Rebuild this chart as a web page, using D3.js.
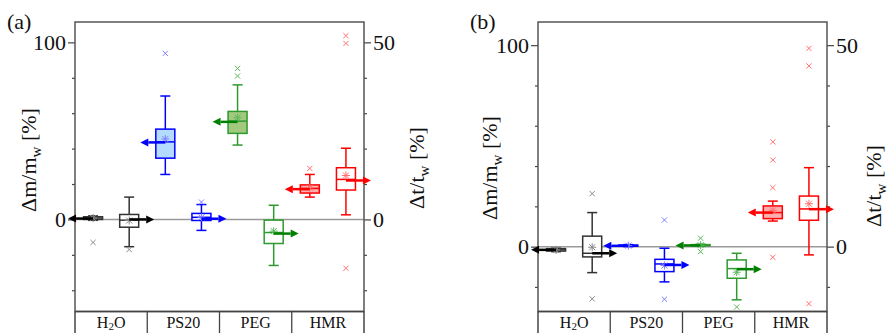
<!DOCTYPE html>
<html>
<head>
<meta charset="utf-8">
<script src="https://cdn.jsdelivr.net/npm/d3@7"></script>
<style>
  body { margin: 0; background: #fff; }
  svg { display: block; }
  svg text { font-family: "Liberation Serif", "Times New Roman", Times, "DejaVu Serif", serif !important; fill: #111; }
</style>
</head>
<body>
<div id="chart"></div>
<script>
// categories (bottom strip)
var categories = ["H2O", "PS20", "PEG", "HMR"];

// Δm/m_w [%] boxes (left axis)  lo, q1, med, q3, hi, mean, arrow level, outliers
var massA = [
  { lo: -0.5, q1: 0,    med: 0.8,  q3: 1.5,  hi: 2,    mean: 0.8,  arrow: 0.5,  out: [-13] },
  { lo: 25.4, q1: 34.6, med: 43.8, q3: 51,   hi: 69.7, mean: 45.4, arrow: 43.5, out: [93.8] },
  { lo: 42,   q1: 48.6, med: 55.5, q3: 61,   hi: 76,   mean: 57.4, arrow: 55.1, out: [81, 85.3] },
  { lo: 12.6, q1: 14.9, med: 17.5, q3: 19.5, hi: 25.4, mean: 17.9, arrow: 17.1, out: [28.8] }
];
// Δt/t_w [%] boxes (right axis)
var thickA = [
  { lo: -7.7, q1: -2.2, med: -0.2, q3: 1.4,  hi: 6.3,  mean: -0.3, arrow: 0,    out: [-8.5] },
  { lo: -3.1, q1: -0.3, med: 0.6,  q3: 1.7,  hi: 4.2,  mean: 0.6,  arrow: 0.2,  out: [4.9] },
  { lo: -13,  q1: -6.8, med: -3.7, q3: -0.2, hi: 4.0,  mean: -3.3, arrow: -4.0, out: [] },
  { lo: 1.3,  q1: 8.3,  med: 11.3, q3: 14.6, hi: 20.1, mean: 12.4, arrow: 11,   out: [51.9, 49.7, -13.8] }
];

var massB = [
  { lo: -2.5, q1: -2.2, med: -1.6, q3: -1.0, hi: -0.8, mean: -1.6, arrow: -1.6, out: [] },
  { lo: 0,    q1: 0.2,  med: 0.5,  q3: 0.8,  hi: 1.0,  mean: 0.5,  arrow: 0.4,  out: [] },
  { lo: 0.2,  q1: 0.4,  med: 0.7,  q3: 1.0,  hi: 1.2,  mean: 0.7,  arrow: 0.6,  out: [4.2, -2.5] },
  { lo: 12.7, q1: 13.9, med: 16.9, q3: 20.2, hi: 22.6, mean: 18,   arrow: 16.9, out: [52, 43, 29.3, -5.3] }
];
var thickB = [
  { lo: -6.45, q1: -2.55, med: -1.65, q3: 2.6,   hi: 8.45,  mean: -0.15, arrow: -1.65, out: [13.15, -12.95] },
  { lo: -8.75, q1: -6.2,  med: -4.3,  q3: -3.15, hi: -0.4,  mean: -4.7,  arrow: -4.55, out: [6.6, -13.05] },
  { lo: -13.2, q1: -7.85, med: -5.45, q3: -3.3,  hi: -1.65, mean: -6.35, arrow: -5.6,  out: [-15] },
  { lo: -2.05, q1: 6.55,  med: 9.35,  q3: 12.55, hi: 19.6,  mean: 10.65, arrow: 9.3,   out: [49.2, 44.85, -14.15] }
];

// colours per category
var strokeColors = ["#333333", "#0000ff", "#2f9a2f", "#ff0000"];
var arrowColors  = ["#000000", "#0000ff", "#008000", "#ff0000"];
var massFills    = ["#ffffff", "#b3dbff", "#a3c97f", "#ffadad"];
var softColors   = ["#8a8a8a", "#8080ff", "#5cb85c", "#ff7070"];

var FONT = "'Liberation Serif', 'Times New Roman', Times, 'DejaVu Serif', serif";
var width = 891, height = 333;

var svg = d3.select("#chart").append("svg")
  .attr("width", width).attr("height", height)
  .attr("font-family", FONT);

// asterisk path for mean and x path for outliers
function asteriskPath(r) {
  var d = "M" + (-r) + ",0L" + r + ",0M0," + (-r) + "L0," + r;
  var k = r * 0.75;
  d += "M" + (-k) + "," + (-k) + "L" + k + "," + k + "M" + (-k) + "," + k + "L" + k + "," + (-k);
  return d;
}
function xPath(r) {
  return "M" + (-r) + "," + (-r) + "L" + r + "," + r + "M" + (-r) + "," + r + "L" + r + "," + (-r);
}

function drawPanel(opt) {
  var g = svg.append("g");
  var left = opt.left, right = opt.left + 289, top = 22, bottom = 311.5;

  var x = d3.scaleBand().domain(categories).range([left, right]).padding(0);
  var y = d3.scaleLinear().domain(opt.yDomain).range([bottom, top]);
  var y2 = d3.scaleLinear().domain([opt.yDomain[0] / 2, opt.yDomain[1] / 2]).range([bottom, top]);

  // zero line
  g.append("line")
    .attr("x1", left).attr("x2", right)
    .attr("y1", y(0)).attr("y2", y(0))
    .attr("stroke", "#9a9a9a").attr("stroke-width", 1.5);

  // axes: major ticks with labels, minor ticks without
  var axL = g.append("g").attr("transform", "translate(" + left + ",0)")
    .call(d3.axisLeft(y).tickValues([0, 100]).tickSize(7).tickPadding(2));
  var axLm = g.append("g").attr("transform", "translate(" + left + ",0)")
    .call(d3.axisLeft(y).tickValues(d3.range(-40, 101, 20).filter(function(v){ return v >= opt.yDomain[0] && v % 100 !== 0; })).tickSize(3).tickFormat(""));
  var axR = g.append("g").attr("transform", "translate(" + right + ",0)")
    .call(d3.axisRight(y2).tickValues([0, 50]).tickSize(7).tickPadding(2));
  var axRm = g.append("g").attr("transform", "translate(" + right + ",0)")
    .call(d3.axisRight(y2).tickValues(d3.range(-20, 51, 10).filter(function(v){ return v >= opt.yDomain[0] / 2 && v % 50 !== 0; })).tickSize(3).tickFormat(""));
  [axL, axLm, axR, axRm].forEach(function(a) {
    a.attr("font-family", FONT).attr("font-size", 22);
    a.select(".domain").remove();
    a.selectAll("line").attr("stroke", "#444").attr("stroke-width", 1.2);
    a.selectAll("text").attr("fill", "#111");
  });

  // frame
  g.append("rect")
    .attr("x", left).attr("y", top)
    .attr("width", right - left).attr("height", bottom - top)
    .attr("fill", "none").attr("stroke", "#555").attr("stroke-width", 1.5);

  // category strip
  g.append("line").attr("x1", left).attr("x2", right).attr("y1", bottom).attr("y2", bottom)
    .attr("stroke", "#444").attr("stroke-width", 1.5);
  categories.forEach(function(c, i) {
    var x0 = x(c);
    if (i > 0) {
      g.append("line").attr("x1", x0).attr("x2", x0).attr("y1", bottom).attr("y2", height)
        .attr("stroke", "#444").attr("stroke-width", 1.3);
    }
    var t = g.append("text").attr("x", x0 + x.bandwidth() / 2).attr("y", 328)
      .attr("text-anchor", "middle").attr("font-size", 16);
    if (c === "H2O") {
      t.append("tspan").text("H");
      t.append("tspan").text("2").attr("font-size", 11).attr("dy", 2);
      t.append("tspan").text("O").attr("dy", -2);
    } else {
      t.text(c);
    }
  });
  g.append("line").attr("x1", left).attr("x2", left).attr("y1", bottom).attr("y2", height).attr("stroke", "#444").attr("stroke-width", 1.5);
  g.append("line").attr("x1", right).attr("x2", right).attr("y1", bottom).attr("y2", height).attr("stroke", "#444").attr("stroke-width", 1.5);

  // boxes
  function drawBox(d, i, cx, scale, fill, dir) {
    var col = strokeColors[i];
    var bw = 19, cw = 10;
    var b = g.append("g");
    b.append("line").attr("x1", cx).attr("x2", cx).attr("y1", scale(d.hi)).attr("y2", scale(d.lo))
      .attr("stroke", col).attr("stroke-width", 1.5);
    [d.hi, d.lo].forEach(function(v) {
      b.append("line").attr("x1", cx - cw / 2).attr("x2", cx + cw / 2).attr("y1", scale(v)).attr("y2", scale(v))
        .attr("stroke", col).attr("stroke-width", 1.5);
    });
    b.append("rect").attr("x", cx - bw / 2).attr("y", scale(d.q3))
      .attr("width", bw).attr("height", Math.max(1, scale(d.q1) - scale(d.q3)))
      .attr("fill", fill).attr("stroke", col).attr("stroke-width", 1.5);
    b.append("line").attr("x1", cx - bw / 2).attr("x2", cx + bw / 2).attr("y1", scale(d.med)).attr("y2", scale(d.med))
      .attr("stroke", col).attr("stroke-width", 1.5);
    b.append("path").attr("d", asteriskPath(4))
      .attr("transform", "translate(" + cx + "," + scale(d.mean) + ")")
      .attr("stroke", softColors[i]).attr("stroke-width", 1).attr("fill", "none");
    d.out.forEach(function(v) {
      b.append("path").attr("d", xPath(2.6))
        .attr("transform", "translate(" + cx + "," + scale(v) + ")")
        .attr("stroke", softColors[i]).attr("stroke-width", 1).attr("fill", "none");
    });
    // arrow pointing to its axis
    var ay = scale(d.arrow), tip = cx + dir * 25, base = tip - dir * 8;
    b.append("line").attr("x1", cx).attr("x2", base).attr("y1", ay).attr("y2", ay)
      .attr("stroke", arrowColors[i]).attr("stroke-width", 2.5);
    b.append("path")
      .attr("d", "M" + tip + "," + ay + "L" + base + "," + (ay - 4) + "L" + base + "," + (ay + 4) + "Z")
      .attr("fill", arrowColors[i]);
  }

  categories.forEach(function(c, i) {
    var bw = x.bandwidth();
    drawBox(opt.mass[i], i, x(c) + bw / 4, y, massFills[i], -1);
    drawBox(opt.thick[i], i, x(c) + 3 * bw / 4, y2, "#ffffff", 1);
  });

  // axis titles
  var lt = g.append("text")
    .attr("transform", "translate(" + opt.leftTitleX + "," + opt.leftTitleY + ") rotate(-90)")
    .attr("text-anchor", "middle").attr("font-size", 22);
  lt.append("tspan").text("\u0394m/m");
  lt.append("tspan").text("w").attr("font-size", 15).attr("dy", 5);
  lt.append("tspan").text(" [%]").attr("dy", -5);

  var rt = g.append("text")
    .attr("transform", "translate(" + opt.rightTitleX + "," + opt.rightTitleY + ") rotate(-90)")
    .attr("text-anchor", "middle").attr("font-size", 22);
  rt.append("tspan").text("\u0394t/t");
  rt.append("tspan").text("w").attr("font-size", 15).attr("dy", 5);
  rt.append("tspan").text(" [%]").attr("dy", -5);

  g.append("text").attr("x", opt.tagX).attr("y", 29).attr("font-size", 22).text(opt.tag);
}

drawPanel({
  left: 75, yDomain: [-52, 111.5], mass: massA, thick: thickA,
  leftTitleX: 36, leftTitleY: 160, rightTitleX: 424, rightTitleY: 168,
  tag: "(a)", tagX: 7
});
drawPanel({
  left: 538, yDomain: [-32.2, 111.5], mass: massB, thick: thickB,
  leftTitleX: 497, leftTitleY: 168, rightTitleX: 881, rightTitleY: 186,
  tag: "(b)", tagX: 470
});
</script>
</body>
</html>
